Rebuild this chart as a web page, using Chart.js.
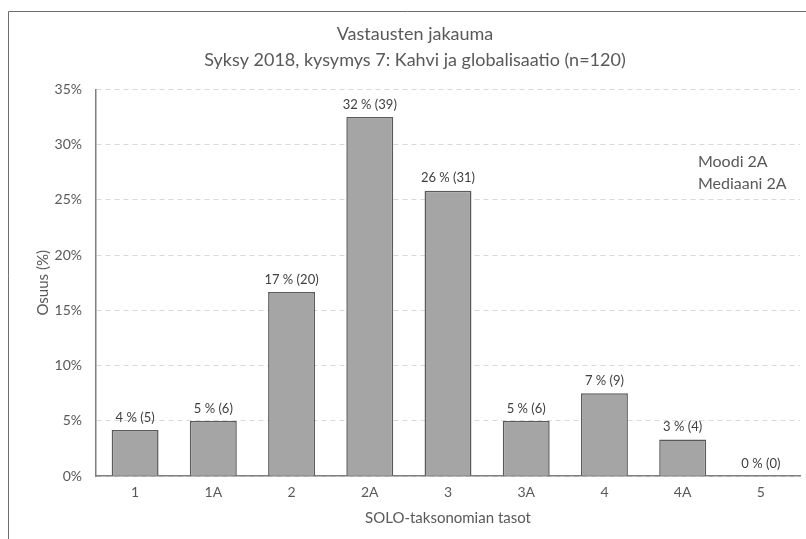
<!DOCTYPE html>
<html>
<head>
<meta charset="utf-8">
<script src="https://cdn.jsdelivr.net/npm/chart.js@4.4.1/dist/chart.umd.min.js"></script>
<style>
  html, body { margin: 0; padding: 0; background: #fff; }
  #wrap { width: 806px; height: 539px; position: relative; }
</style>
</head>
<body>
<div id="wrap"><canvas id="chart_solo"></canvas></div>
<script>
var categories = ['1', '1A', '2', '2A', '3', '3A', '4', '4A', '5'];
var counts = [5, 6, 20, 39, 31, 6, 9, 4, 0];
var shares = [4.17, 5.0, 16.67, 32.5, 25.83, 5.0, 7.5, 3.33, 0];
var barLabels = ['4 % (5)', '5 % (6)', '17 % (20)', '32 % (39)', '26 % (31)', '5 % (6)', '7 % (9)', '3 % (4)', '0 % (0)'];
var notes = ['Moodi 2A', 'Mediaani 2A'];

var FONT = 'Lato, "Open Sans", sans-serif';
var GREY = '#595959';

var chart_solo = new Chart(document.getElementById('chart_solo'), {
    type: 'bar',
    data: {
        labels: categories,
        datasets: [{
            label: 'Osuus',
            data: shares,
            backgroundColor: '#a5a5a5',
            borderColor: '#5a5a5a',
            borderWidth: function(ctx) { return counts[ctx.dataIndex] === 0 ? 0 : 1.5; },
            categoryPercentage: 1.0,
            barPercentage: 0.6
        }]
    },
    options: {
        animation: false,
        responsive: true,
        maintainAspectRatio: false,
        layout: { padding: { left: 30, right: 6, top: 12, bottom: 8 } },
        plugins: {
            legend: { display: false },
            tooltip: { enabled: false },
            title: {
                display: true,
                text: ['Vastausten jakauma', 'Syksy 2018, kysymys 7: Kahvi ja globalisaatio (n=120)'],
                color: GREY,
                font: { family: FONT, size: 18, weight: 'normal', lineHeight: 1.4 },
                padding: { top: 10, bottom: 17 }
            }
        },
        scales: {
            x: {
                grid: { display: false },
                border: { display: true, color: '#7f7f7f', width: 1.5 },
                ticks: { color: GREY, font: { family: FONT, size: 14 }, padding: 0 },
                title: {
                    display: true,
                    text: 'SOLO-taksonomian tasot',
                    color: GREY,
                    font: { family: FONT, size: 15 },
                    padding: { top: 8 }
                }
            },
            y: {
                min: 0,
                max: 35,
                afterFit: function(scale) { scale.width = 66; },
                grid: { color: '#d9d9d9', drawTicks: false },
                border: { display: true, color: '#7f7f7f', width: 1.5, dash: [5, 4] },
                ticks: {
                    stepSize: 5,
                    color: GREY,
                    padding: 14,
                    font: { family: FONT, size: 14 },
                    callback: function(value) { return value + '%'; }
                },
                title: {
                    display: true,
                    text: 'Osuus (%)',
                    color: GREY,
                    font: { family: FONT, size: 15 },
                    padding: { bottom: 2 }
                }
            }
        }
    },
    plugins: [{
        id: 'frameAndLabels',
        beforeDraw: function(chart) {
            var ctx = chart.ctx;
            ctx.save();
            ctx.fillStyle = 'white';
            ctx.fillRect(0, 0, chart.width, chart.height);
            ctx.strokeStyle = '#6e6e6e';
            ctx.lineWidth = 1;
            ctx.beginPath();
            ctx.moveTo(8.5, chart.height);
            ctx.lineTo(8.5, 11.5);
            ctx.lineTo(chart.width, 11.5);
            ctx.stroke();
            ctx.restore();
        },
        afterDatasetsDraw: function(chart) {
            var ctx = chart.ctx;
            var meta = chart.getDatasetMeta(0);
            ctx.save();
            ctx.fillStyle = '#404040';
            ctx.font = '13px ' + FONT;
            ctx.textAlign = 'center';
            ctx.textBaseline = 'bottom';
            meta.data.forEach(function(bar, i) {
                ctx.fillText(barLabels[i], bar.x, bar.y - 6);
            });
            var area = chart.chartArea;
            ctx.fillStyle = GREY;
            ctx.font = '16px ' + FONT;
            ctx.textAlign = 'left';
            ctx.textBaseline = 'middle';
            var y0 = chart.scales.y.getPixelForValue(28.4);
            notes.forEach(function(t, i) {
                ctx.fillText(t, area.left + (area.right - area.left) * 0.855, y0 + i * 22);
            });
            ctx.restore();
        }
    }]
});
</script>
</body>
</html>
